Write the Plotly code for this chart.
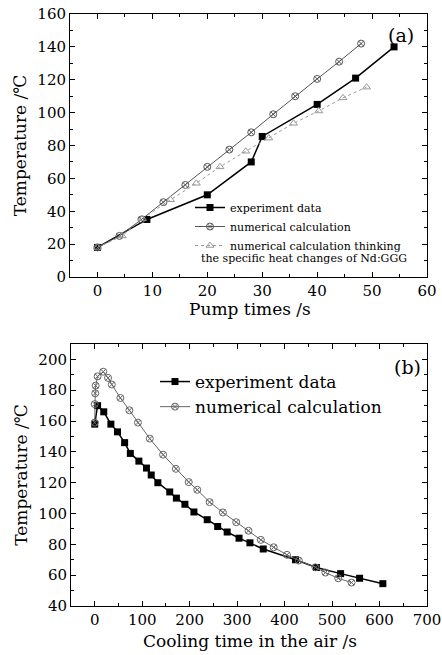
import plotly.graph_objects as go

# ---- panel (a) data ----
a_exp_x = [0, 9, 20, 28, 30, 40, 47, 54]
a_exp_y = [18, 35, 50, 70, 85.5, 105, 121, 140]

a_num_x = [0, 4, 8, 12, 16, 20, 24, 28, 32, 36, 40, 44, 48]
a_num_y = [18, 25, 35, 45.5, 56, 67, 77.5, 88, 99, 110, 120.5, 131, 142]

a_sh_x = [0, 4.5, 8.2, 13.3, 18, 22.3, 27, 31.2, 35.7, 40.3, 44.7, 49]
a_sh_y = [18, 25, 35.5, 47, 57, 67, 76.5, 84.5, 93.5, 101, 109, 115.5]

# ---- panel (b) data ----
b_exp_x = [0, 6, 19, 34, 48, 63, 75, 93, 109, 119, 133, 158, 172, 190, 209,
           237, 259, 279, 304, 327, 355, 423, 467, 518, 558, 607]
b_exp_y = [158, 170, 166, 158, 153, 146, 139, 134, 129.5, 125, 120, 114, 110,
           106, 101, 96, 91.6, 88, 84, 81, 77, 70, 65, 61, 58, 54.5]

b_num_x = [0, 0, 1, 2, 6, 18, 28, 36, 54, 73, 91, 116, 144, 171, 198, 216,
           242, 270, 298, 324, 350, 377, 405, 430, 465, 486, 513, 541]
b_num_y = [159, 171, 178, 183, 189, 192, 188, 183.7, 175, 167, 159, 148.6,
           138.2, 129, 120.4, 115.4, 107.4, 100.7, 94.4, 88.8, 82.9, 78.1,
           73.2, 69.5, 65.1, 61.7, 58, 55.2]

SERIF = "DejaVu Serif"
W, H = 442, 655

fig = go.Figure()

fig.add_trace(go.Scatter(x=a_exp_x, y=a_exp_y, mode="lines+markers",
                         name="experiment data",
                         line=dict(color="black", width=1.5),
                         marker=dict(symbol="square", size=7, color="black"),
                         xaxis="x", yaxis="y", legend="legend"))
fig.add_trace(go.Scatter(x=a_num_x, y=a_num_y, mode="lines+markers",
                         name="numerical calculation",
                         line=dict(color="#555555", width=1),
                         marker=dict(symbol="circle-x-open", size=7,
                                     color="#555555", line=dict(width=1)),
                         xaxis="x", yaxis="y", legend="legend"))
fig.add_trace(go.Scatter(x=a_sh_x, y=a_sh_y, mode="lines+markers",
                         name="numerical calculation thinking",
                         line=dict(color="#999999", width=1, dash="dot"),
                         marker=dict(symbol="triangle-up-open", size=7,
                                     color="#999999", line=dict(width=1)),
                         xaxis="x", yaxis="y", legend="legend"))

fig.add_trace(go.Scatter(x=b_exp_x, y=b_exp_y, mode="lines+markers",
                         name="experiment data",
                         line=dict(color="black", width=1.5),
                         marker=dict(symbol="square", size=7, color="black"),
                         xaxis="x2", yaxis="y2", legend="legend2"))
fig.add_trace(go.Scatter(x=b_num_x, y=b_num_y, mode="lines+markers",
                         name="numerical calculation",
                         line=dict(color="#666666", width=1),
                         marker=dict(symbol="circle-x-open", size=7,
                                     color="#666666", line=dict(width=1)),
                         xaxis="x2", yaxis="y2", legend="legend2"))

axis_common = dict(showline=True, linecolor="black", linewidth=1,
                   mirror="allticks", ticks="inside", ticklen=5,
                   tickcolor="black", showgrid=False, zeroline=False,
                   automargin=False,
                   tickfont=dict(family=SERIF, size=15, color="black"),
                   title_font=dict(family=SERIF, size=17, color="black"))

fig.update_layout(
    width=W, height=H,
    margin=dict(l=0, r=0, t=0, b=0, pad=0, autoexpand=False),
    paper_bgcolor="white", plot_bgcolor="white",
    font=dict(family=SERIF, color="black"),
    xaxis=dict(domain=[70 / W, 427 / W], anchor="y", range=[-5, 60],
               dtick=10, tick0=0,
               minor=dict(ticks="inside", ticklen=3, dtick=5, tickcolor="black"),
               **axis_common),
    yaxis=dict(domain=[1 - 277 / H, 1 - 14 / H], anchor="x", range=[0, 160],
               dtick=20,
               minor=dict(ticks="inside", ticklen=3, dtick=10, tickcolor="black"),
               title=dict(text="Temperature /℃", standoff=6), **axis_common),
    xaxis2=dict(domain=[71 / W, 427 / W], anchor="y2", range=[-50, 700],
                dtick=100, tick0=0,
                minor=dict(ticks="inside", ticklen=3, dtick=50, tickcolor="black"),
                **axis_common),
    yaxis2=dict(domain=[1 - 606 / H, 1 - 344 / H], anchor="x2", range=[40, 210],
                dtick=20, tick0=40,
                minor=dict(ticks="inside", ticklen=3, dtick=10, tickcolor="black"),
                title=dict(text="Temperature /℃", standoff=6), **axis_common),
    legend=dict(x=190 / W, y=1 - 193 / H, xanchor="left", yanchor="top",
                bgcolor="rgba(0,0,0,0)", font=dict(family=SERIF, size=11),
                itemwidth=30, tracegroupgap=0),
    legend2=dict(x=155 / W, y=1 - 364 / H, xanchor="left", yanchor="top",
                 bgcolor="rgba(0,0,0,0)", font=dict(family=SERIF, size=17),
                 itemwidth=30, tracegroupgap=0),
    showlegend=True,
)

def note(text, x, y, size, xanchor="center"):
    fig.add_annotation(text=text, xref="paper", yref="paper",
                       x=x / W, y=1 - y / H, xanchor=xanchor, yanchor="middle",
                       showarrow=False,
                       font=dict(family=SERIF, size=size, color="black"))

note("the specific heat changes of Nd:GGG", 199, 259, 11, xanchor="left")
note("(a)", 401, 35, 19)
note("(b)", 407, 367, 19)
note("Pump times /s", 250, 309, 17)
note("Cooling time in the air /s", 250, 641, 17)

fig.write_html("out.html",
               config={"displayModeBar": False},
               post_script="document.body.style.margin='0';"
                           "document.body.style.overflow='hidden';")
